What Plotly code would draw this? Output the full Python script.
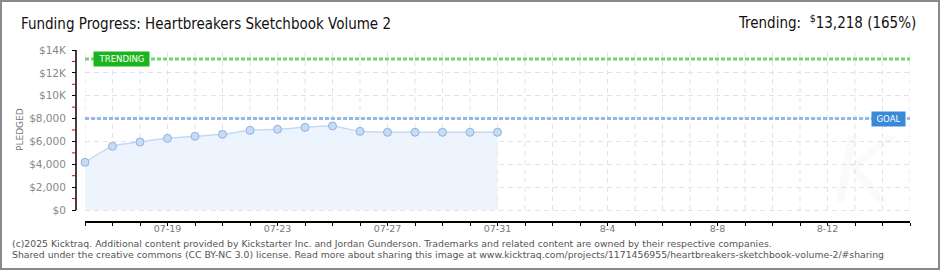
import plotly.graph_objects as go
import pandas as pd

# ---------------- data ----------------
dates = ["2025-07-16", "2025-07-17", "2025-07-18", "2025-07-19", "2025-07-20", "2025-07-21",
         "2025-07-22", "2025-07-23", "2025-07-24", "2025-07-25", "2025-07-26", "2025-07-27",
         "2025-07-28", "2025-07-29", "2025-07-30", "2025-07-31"]
pledged = [4170, 5570, 5950, 6270, 6450, 6620, 6970, 7060, 7230, 7350, 6880, 6800,
           6800, 6800, 6800, 6800]
goal = 8000
trending = 13218
trending_pct = 165
x_start = "2025-07-16"
x_end = "2025-08-15"
xtick_label_dates = ["2025-07-19", "2025-07-23", "2025-07-27", "2025-07-31",
                     "2025-08-04", "2025-08-08", "2025-08-12"]
xtick_label_text = ["07-19", "07-23", "07-27", "07-31", "8-4", "8-8", "8-12"]
ytick_vals = [0, 2000, 4000, 6000, 8000, 10000, 12000, 14000]
ytick_text = ["$0", "$2,000", "$4,000", "$6,000", "$8,000", "$10K", "$12K", "$14K"]
yminor_vals = [1000, 3000, 5000, 7000, 9000, 11000, 13000]

title = "Funding Progress: Heartbreakers Sketchbook Volume 2"
footer1 = "(c)2025 Kicktraq. Additional content provided by Kickstarter Inc. and Jordan Gunderson. Trademarks and related content are owned by their respective companies."
footer2 = "Shared under the creative commons (CC BY-NC 3.0) license. Read more about sharing this image at www.kicktraq.com/projects/1171456955/heartbreakers-sketchbook-volume-2/#sharing"

# ---------------- layout geometry ----------------
W, H = 940, 270
ML, MR, MT, MB = 76, 30, 50, 49
PW = W - ML - MR
PH = H - MT - MB
x_dom_start = 9 / PW
y_min = -11 / (160 / 14000)  # y range extends below 0 so x axis sits lower
HEAD_FONT = "DejaVu Sans Condensed, Roboto, sans-serif"


def px(xp):
    return (xp - ML) / PW


def py(yp):
    return (H - MB - yp) / PH


all_days = [d.strftime("%Y-%m-%d") for d in pd.date_range(x_start, x_end, freq="D")]
tick_text_all = [xtick_label_text[xtick_label_dates.index(d)] if d in xtick_label_dates else " "
                 for d in all_days]

fig = go.Figure()

# pledged area + line
fig.add_trace(go.Scatter(
    x=dates, y=pledged, mode="lines+markers",
    line=dict(color="#c3daf4", width=1.5, shape="spline", smoothing=0.7),
    fill="tozeroy", fillcolor="#edf4fd",
    marker=dict(size=8, color="#c6dcf6", line=dict(color="#93b2da", width=1)),
    hoverinfo="x+y", showlegend=False, cliponaxis=False,
))

# goal line
fig.add_trace(go.Scatter(
    x=[x_start, x_end], y=[goal, goal], mode="lines",
    line=dict(color="#94b9e4", width=3, dash="4px,2px"),
    hoverinfo="skip", showlegend=False,
))
# trending line
fig.add_trace(go.Scatter(
    x=[x_start, x_end], y=[trending, trending], mode="lines",
    line=dict(color="#74d474", width=3, dash="4px,2px"),
    hoverinfo="skip", showlegend=False,
))

shapes = []
# vertical grid lines (one per day) from $0 to top
for d in all_days:
    shapes.append(dict(type="line", xref="x", yref="y", x0=d, x1=d, y0=0, y1=14000,
                       line=dict(color="#e3e3e3", width=1, dash="5px,4px"), layer="below"))
# y axis line
shapes.append(dict(type="line", xref="paper", yref="y", x0=0, x1=0, y0=0, y1=14000,
                   line=dict(color="#000000", width=1.5)))
# red minor ticks on the y axis
for v in yminor_vals:
    shapes.append(dict(type="line", xref="paper", yref="y", x0=px(72), x1=px(76), y0=v, y1=v,
                       line=dict(color="#e00000", width=1)))
# outer border
shapes.append(dict(type="rect", xref="paper", yref="paper",
                   x0=px(1), x1=px(W - 1), y0=py(H - 1), y1=py(1),
                   line=dict(color="#8a8a8a", width=2), fillcolor="rgba(0,0,0,0)"))

annotations = [
    dict(text=title, xref="paper", yref="paper", x=px(19), y=py(24), xanchor="left",
         yanchor="middle", showarrow=False,
         font=dict(family=HEAD_FONT, size=15, color="#111111")),
    dict(text=f"Trending:  <sup>$</sup>{trending:,} ({trending_pct}%)", xref="paper", yref="paper",
         x=px(918), y=py(22), xanchor="right", yanchor="middle", showarrow=False,
         font=dict(family=HEAD_FONT, size=15, color="#111111")),
    dict(text="PLEDGED", xref="paper", yref="paper", x=px(20), y=py(130), textangle=-90,
         xanchor="center", yanchor="middle", showarrow=False,
         font=dict(family="DejaVu Sans", size=9, color="#777777")),
    dict(text="TRENDING", xref="paper", yref="y", x=px(121), y=trending,
         xanchor="center", yanchor="middle", showarrow=False,
         bgcolor="#1cb41c", borderpad=2, width=51, height=10,
         font=dict(family="DejaVu Sans", size=8.5, color="#ffffff")),
    dict(text="GOAL", xref="paper", yref="y", x=px(888.5), y=goal,
         xanchor="center", yanchor="middle", showarrow=False,
         bgcolor="#3a88d8", borderpad=2, width=29, height=10,
         font=dict(family="DejaVu Sans", size=8.5, color="#ffffff")),
    dict(text="<i>K</i>", xref="paper", yref="paper", x=px(865), y=py(170),
         xanchor="center", yanchor="middle", showarrow=False,
         font=dict(family="DejaVu Sans", size=90, color="rgba(0,0,0,0.02)")),
    dict(text=footer1, xref="paper", yref="paper", x=px(10), y=py(243), xanchor="left",
         yanchor="middle", showarrow=False,
         font=dict(family="DejaVu Sans", size=9.3, color="#555555")),
    dict(text=footer2, xref="paper", yref="paper", x=px(10), y=py(255), xanchor="left",
         yanchor="middle", showarrow=False,
         font=dict(family="DejaVu Sans", size=9.3, color="#555555")),
]

fig.update_layout(
    width=W, height=H,
    margin=dict(l=ML, r=MR, t=MT, b=MB, pad=0),
    paper_bgcolor="#ffffff", plot_bgcolor="#ffffff",
    showlegend=False,
    shapes=shapes, annotations=annotations,
    xaxis=dict(
        domain=[x_dom_start, 1], range=[x_start, x_end], type="date",
        tickmode="array", tickvals=all_days, ticktext=tick_text_all,
        ticks="outside", ticklen=3, tickwidth=1, tickcolor="#000000",
        showline=True, linecolor="#000000", linewidth=1.5,
        showgrid=False, zeroline=False,
        tickfont=dict(family="DejaVu Sans", size=9.5, color="#777777"),
        ticklabelstandoff=-5,
    ),
    yaxis=dict(
        anchor="free", position=0, range=[y_min, 14000],
        tickmode="array", tickvals=ytick_vals, ticktext=ytick_text,
        ticks="outside", ticklen=4, tickwidth=1, tickcolor="#000000",
        showline=False, zeroline=False,
        showgrid=True, gridcolor="#e3e3e3", griddash="5px,4px", gridwidth=1,
        tickfont=dict(family="DejaVu Sans", size=10.5, color="#888888"),
        ticklabelstandoff=4,
    ),
)

fig.write_html("out.html")
